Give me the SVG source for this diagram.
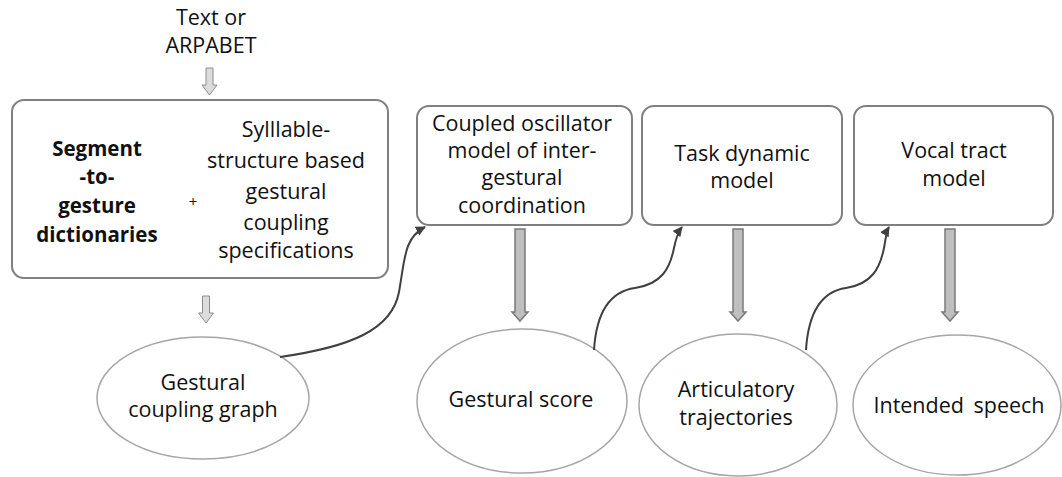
<svg xmlns="http://www.w3.org/2000/svg" width="1062" height="477" viewBox="0 0 1062 477">
<style>
text{font-family:"Open Sans","Noto Sans","Liberation Sans",sans-serif;font-size:21.5px;fill:#111;text-anchor:middle}
.b{font-weight:bold;font-size:20.5px}
.box{fill:#fff;stroke:#7f7f7f;stroke-width:2}
.ell{fill:#fff;stroke:#a6a6a6;stroke-width:1.5}
.sa{fill:#dcdcdc;stroke:#8c8c8c;stroke-width:1}
.ta{fill:#bfbfbf;stroke:#7a7a7a;stroke-width:1.5}
.con{fill:none;stroke:#404040;stroke-width:2}
</style>
<defs>
<marker id="ah" viewBox="0 0 10 10" refX="9" refY="5" markerWidth="5" markerHeight="5" orient="auto" markerUnits="strokeWidth">
<path d="M0,0 L10,5 L0,10 z" fill="#404040"/>
</marker>
<polygon id="thick" points="-5,0 5,0 5,83 8,83 0,92 -8,83 -5,83"/>
<polygon id="small" points="-3.5,0 3.5,0 3.5,17 7.5,17 0,27 -7.5,17 -3.5,17"/>
</defs>

<g id="input">
<text x="211" y="25">Text or</text>
<text x="211" y="53">ARPABET</text>
</g>

<g id="box1">
<rect class="box" x="12" y="100" width="376" height="178" rx="12"/>
<text class="b" x="97" y="156">Segment</text>
<text class="b" x="97" y="184">-to-</text>
<text class="b" x="97" y="213">gesture</text>
<text class="b" x="97" y="242">dictionaries</text>
<text x="193" y="207" style="font-size:15px">+</text>
<text x="286" y="137">Sylllable-</text>
<text x="286" y="168">structure based</text>
<text x="286" y="199">gestural</text>
<text x="286" y="230">coupling</text>
<text x="286" y="258">specifications</text>
</g>

<g id="box2">
<rect class="box" x="417" y="106" width="215" height="119" rx="12"/>
<text x="522" y="131">Coupled oscillator</text>
<text x="522" y="158">model of inter-</text>
<text x="522" y="185">gestural</text>
<text x="522" y="213">coordination</text>
</g>

<g id="box3">
<rect class="box" x="642" y="106" width="200" height="119" rx="12"/>
<text x="742" y="161">Task dynamic</text>
<text x="742" y="188">model</text>
</g>

<g id="box4">
<rect class="box" x="854" y="106" width="199" height="119" rx="12"/>
<text x="954" y="158">Vocal tract</text>
<text x="954" y="186">model</text>
</g>

<g id="ell1">
<ellipse class="ell" cx="203" cy="398" rx="106" ry="61"/>
<text x="203" y="390">Gestural</text>
<text x="203" y="417">coupling graph</text>
</g>

<g id="ell2">
<ellipse class="ell" cx="522" cy="401" rx="105" ry="72"/>
<text x="521" y="407">Gestural score</text>
</g>

<g id="ell3">
<ellipse class="ell" cx="738" cy="405" rx="99" ry="71"/>
<text x="736" y="397">Articulatory</text>
<text x="736" y="425">trajectories</text>
</g>

<g id="ell4">
<ellipse class="ell" cx="957" cy="405" rx="104" ry="70"/>
<text x="959" y="413" style="word-spacing:4px">Intended speech</text>
</g>

<g id="connectors">
<use href="#small" class="sa" transform="translate(209.5,68)"/>
<use href="#small" class="sa" transform="translate(206,296)"/>
<use href="#thick" class="ta" transform="translate(520,229)"/>
<use href="#thick" class="ta" transform="translate(738,229)"/>
<use href="#thick" class="ta" transform="translate(950,229)"/>
<path class="con" marker-end="url(#ah)" d="M280,357 C350,347 392,330 399,292 C405,258 404,238 425,227"/>
<path class="con" marker-end="url(#ah)" d="M594,350 C596,318 606,292 635,288 C662,284 670,268 674,248 C676,238 678,232 682,227"/>
<path class="con" marker-end="url(#ah)" d="M806,350 C808,318 818,292 846,288 C872,284 880,268 884,248 C886,238 886,232 889,227"/>
</g>
</svg>
